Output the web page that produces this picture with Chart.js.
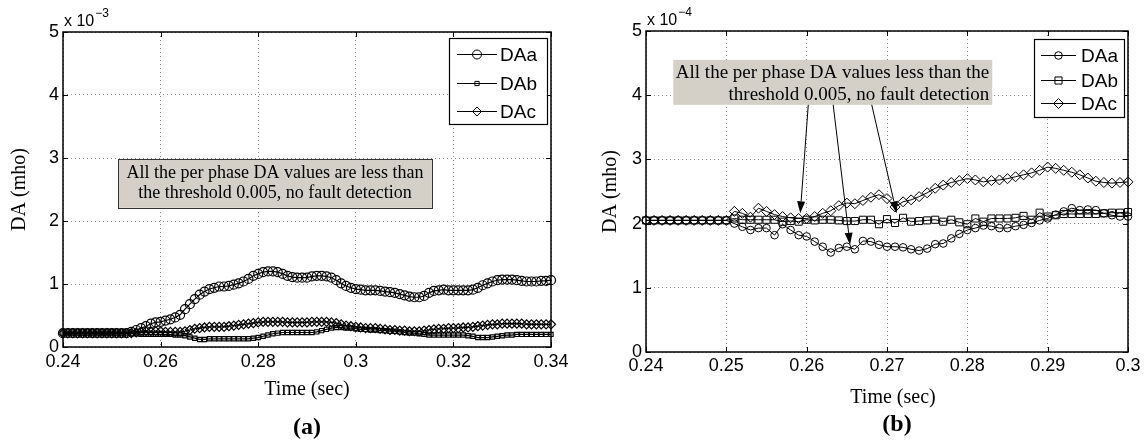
<!DOCTYPE html>
<html>
<head>
<meta charset="utf-8">
<script src="https://cdn.jsdelivr.net/npm/chart.js@4.4.0/dist/chart.umd.min.js"></script>
<style>
  html, body { margin: 0; padding: 0; background: #fff; }
  #wrap { position: relative; width: 1147px; height: 448px; }
  canvas { position: absolute; top: 0; }
  #chartA { left: 0; }
  #chartB { left: 573px; }
</style>
</head>
<body>
<div id="wrap">
  <canvas id="chartA" width="573" height="448"></canvas>
  <canvas id="chartB" width="574" height="448"></canvas>
</div>
<script>
// sample times (1 ms step)
const timeA = Array.from({ length: 101 }, (_, i) => +(0.24 + i * 0.001).toFixed(3));
const timeB = Array.from({ length: 61 }, (_, i) => +(0.24 + i * 0.001).toFixed(3));

// panel (a), DA in units of 1e-3 mho
const daA_a = [
  0.22, 0.22, 0.22, 0.22, 0.22, 0.22, 0.22, 0.22, 0.22, 0.22,
  0.22, 0.22, 0.22, 0.22, 0.24, 0.27, 0.30, 0.33, 0.37, 0.39,
  0.40, 0.42, 0.44, 0.47, 0.51, 0.60, 0.68, 0.76, 0.83, 0.88,
  0.92, 0.94, 0.96, 0.96, 0.97, 0.99, 1.01, 1.04, 1.08, 1.13,
  1.16, 1.19, 1.20, 1.20, 1.19, 1.16, 1.13, 1.11, 1.10, 1.10,
  1.10, 1.12, 1.13, 1.13, 1.12, 1.10, 1.06, 1.01, 0.97, 0.94,
  0.92, 0.91, 0.90, 0.90, 0.90, 0.89, 0.88, 0.87, 0.86, 0.84,
  0.82, 0.80, 0.79, 0.79, 0.81, 0.86, 0.89, 0.90, 0.91, 0.90,
  0.90, 0.90, 0.90, 0.90, 0.91, 0.94, 0.98, 1.01, 1.04, 1.06,
  1.07, 1.07, 1.07, 1.06, 1.05, 1.04, 1.04, 1.04, 1.05, 1.05,
  1.06
];
const daB_a = [
  0.22, 0.22, 0.22, 0.22, 0.22, 0.22, 0.22, 0.22, 0.22, 0.22,
  0.22, 0.22, 0.22, 0.22, 0.22, 0.21, 0.20, 0.20, 0.20, 0.20,
  0.20, 0.20, 0.20, 0.19, 0.19, 0.18, 0.16, 0.14, 0.12, 0.12,
  0.13, 0.13, 0.13, 0.13, 0.13, 0.13, 0.13, 0.13, 0.13, 0.14,
  0.15, 0.17, 0.19, 0.21, 0.22, 0.23, 0.23, 0.23, 0.23, 0.23,
  0.23, 0.23, 0.24, 0.26, 0.28, 0.30, 0.31, 0.31, 0.30, 0.30,
  0.29, 0.28, 0.28, 0.27, 0.27, 0.26, 0.26, 0.25, 0.25, 0.24,
  0.23, 0.22, 0.22, 0.21, 0.20, 0.19, 0.19, 0.19, 0.19, 0.19,
  0.19, 0.19, 0.19, 0.18, 0.17, 0.15, 0.15, 0.15, 0.16, 0.17,
  0.18, 0.19, 0.19, 0.20, 0.20, 0.20, 0.20, 0.20, 0.20, 0.20,
  0.20
];
const daC_a = [
  0.22, 0.22, 0.22, 0.22, 0.22, 0.22, 0.22, 0.22, 0.22, 0.22,
  0.22, 0.22, 0.22, 0.22, 0.22, 0.23, 0.24, 0.25, 0.25, 0.25,
  0.25, 0.24, 0.24, 0.24, 0.24, 0.25, 0.27, 0.29, 0.30, 0.31,
  0.32, 0.32, 0.32, 0.32, 0.33, 0.34, 0.35, 0.36, 0.37, 0.38,
  0.39, 0.40, 0.40, 0.40, 0.40, 0.40, 0.39, 0.39, 0.39, 0.39,
  0.39, 0.40, 0.40, 0.40, 0.40, 0.39, 0.38, 0.36, 0.34, 0.33,
  0.32, 0.31, 0.30, 0.30, 0.30, 0.29, 0.28, 0.27, 0.27, 0.26,
  0.26, 0.25, 0.25, 0.25, 0.26, 0.27, 0.28, 0.29, 0.29, 0.30,
  0.30, 0.30, 0.31, 0.31, 0.32, 0.33, 0.34, 0.35, 0.36, 0.36,
  0.37, 0.37, 0.37, 0.37, 0.37, 0.36, 0.36, 0.36, 0.36, 0.36,
  0.36
];

// panel (b), DA in units of 1e-4 mho
const daA_b = [
  2.05, 2.05, 2.05, 2.05, 2.05, 2.05, 2.05, 2.05, 2.05, 2.05,
  2.05, 2.00, 1.95, 1.90, 1.93, 1.93, 1.82, 1.99, 1.90, 1.82,
  1.80, 1.72, 1.64, 1.55, 1.62, 1.64, 1.60, 1.73, 1.72, 1.67,
  1.64, 1.64, 1.63, 1.60, 1.58, 1.61, 1.68, 1.69, 1.77, 1.84,
  1.90, 1.93, 1.97, 1.96, 1.93, 1.93, 1.96, 1.98, 2.01, 2.05,
  2.08, 2.14, 2.19, 2.24, 2.21, 2.22, 2.21, 2.16, 2.13, 2.11,
  2.11
];
const daB_b = [
  2.05, 2.05, 2.05, 2.05, 2.05, 2.05, 2.05, 2.05, 2.05, 2.05,
  2.05, 2.08, 2.06, 2.06, 2.06, 2.06, 2.06, 2.03, 2.04, 2.03,
  2.06, 2.05, 2.06, 2.06, 2.05, 2.04, 2.04, 2.06, 2.06, 1.99,
  2.07, 2.01, 2.09, 2.03, 2.04, 2.05, 2.06, 2.03, 2.06, 2.02,
  1.99, 2.08, 2.03, 2.08, 2.08, 2.08, 2.09, 2.12, 2.06, 2.17,
  2.11, 2.13, 2.15, 2.15, 2.15, 2.15, 2.15, 2.16, 2.17, 2.17,
  2.18
];
const daC_b = [
  2.05, 2.05, 2.05, 2.05, 2.05, 2.05, 2.05, 2.05, 2.05, 2.05,
  2.05, 2.19, 2.16, 2.10, 2.24, 2.19, 2.14, 2.11, 2.09, 2.08,
  2.08, 2.11, 2.16, 2.20, 2.28, 2.32, 2.31, 2.36, 2.41, 2.45,
  2.39, 2.26, 2.34, 2.37, 2.42, 2.48, 2.55, 2.60, 2.64, 2.67,
  2.70, 2.68, 2.65, 2.67, 2.68, 2.70, 2.73, 2.76, 2.79, 2.83,
  2.88, 2.86, 2.83, 2.80, 2.76, 2.71, 2.66, 2.64, 2.63, 2.64,
  2.65
];

const seriesNames = ["DAa", "DAb", "DAc"];
const xTicksA = [0.24, 0.26, 0.28, 0.3, 0.32, 0.34];
const xTicksB = [0.24, 0.25, 0.26, 0.27, 0.28, 0.29, 0.3];
const yTicks = [0, 1, 2, 3, 4, 5];

const SANS = '"Liberation Sans", Arial, Helvetica, sans-serif';
const SERIF = '"Liberation Serif", "Times New Roman", serif';
const GRID = "#8c8c8c";
const NOTE_FILL = "#d4d0c8";

function drawMarker(ctx, style, x, y, r) {
  ctx.beginPath();
  if (style === "circle") {
    ctx.arc(x, y, r, 0, Math.PI * 2);
  } else if (style === "rect") {
    const h = r * Math.SQRT1_2;
    ctx.rect(x - h, y - h, 2 * h, 2 * h);
  } else {
    ctx.moveTo(x, y - r);
    ctx.lineTo(x + r, y);
    ctx.lineTo(x, y + r);
    ctx.lineTo(x - r, y);
    ctx.closePath();
  }
  ctx.stroke();
}

// matlab-ish decorations: box, inward ticks, exponent, titles, note, legend
const matlabAxes = {
  id: "matlabAxes",
  afterDatasetsDraw(chart, _args, o) {
    const { ctx, chartArea: a } = chart;
    const xs = chart.scales.x;
    const ys = chart.scales.y;
    ctx.save();

    ctx.strokeStyle = "#000";
    ctx.lineWidth = 1;
    ctx.beginPath();
    xs.ticks.forEach((t) => {
      const px = Math.round(xs.getPixelForValue(t.value)) + 0.5;
      ctx.moveTo(px, a.bottom); ctx.lineTo(px, a.bottom - 5);
      ctx.moveTo(px, a.top); ctx.lineTo(px, a.top + 5);
    });
    ys.ticks.forEach((t) => {
      const py = Math.round(ys.getPixelForValue(t.value)) + 0.5;
      ctx.moveTo(a.left, py); ctx.lineTo(a.left + 5, py);
      ctx.moveTo(a.right, py); ctx.lineTo(a.right - 5, py);
    });
    ctx.stroke();
    ctx.lineWidth = 1.5;
    ctx.strokeRect(a.left, a.top, a.right - a.left, a.bottom - a.top);

    // exponent label
    ctx.fillStyle = "#000";
    ctx.textAlign = "left";
    ctx.textBaseline = "alphabetic";
    ctx.font = `16px ${SANS}`;
    ctx.fillText("x 10", a.left + 1, a.top - 6);
    const w = ctx.measureText("x 10").width;
    ctx.font = `12px ${SANS}`;
    ctx.fillText(o.exponent, a.left + w + 2, a.top - 15);

    // axis titles and panel label
    const cx = (a.left + a.right) / 2;
    ctx.textAlign = "center";
    ctx.textBaseline = "middle";
    ctx.font = `20px ${SERIF}`;
    ctx.fillText("Time (sec)", cx + o.titleDx, o.xTitleY);
    ctx.save();
    ctx.translate(o.yTitleX, (a.top + a.bottom) / 2);
    ctx.rotate(-Math.PI / 2);
    ctx.fillText("DA (mho)", 0, 0);
    ctx.restore();
    ctx.font = `bold 24px ${SERIF}`;
    ctx.fillText(o.panel, cx + o.panelDx, o.panelY);

    // text note
    const n = o.note;
    const bx0 = xs.getPixelForValue(n.x0), bx1 = xs.getPixelForValue(n.x1);
    const by0 = ys.getPixelForValue(n.y0), by1 = ys.getPixelForValue(n.y1);
    ctx.fillStyle = NOTE_FILL;
    ctx.fillRect(bx0, by0, bx1 - bx0, by1 - by0);
    if (n.border) {
      ctx.lineWidth = 1;
      ctx.strokeStyle = "#333";
      ctx.strokeRect(Math.round(bx0) + 0.5, Math.round(by0) + 0.5, Math.round(bx1 - bx0), Math.round(by1 - by0));
    }
    ctx.fillStyle = "#000";
    ctx.font = `${n.size}px ${SERIF}`;
    n.lines.forEach((line, i) => {
      const ty = by0 + n.firstLine + i * n.lineGap;
      if (n.align === "right") {
        ctx.textAlign = "right";
        ctx.fillText(line, bx1 - 3, ty);
      } else {
        ctx.textAlign = "center";
        ctx.fillText(line, (bx0 + bx1) / 2, ty);
      }
    });
    (n.arrows || []).forEach(([t0, v0, t1, v1]) => {
      const x0 = xs.getPixelForValue(t0), y0 = ys.getPixelForValue(v0);
      const x1 = xs.getPixelForValue(t1), y1 = ys.getPixelForValue(v1);
      const ang = Math.atan2(y1 - y0, x1 - x0);
      const hl = 12, hw = 4;
      const bxh = x1 - hl * Math.cos(ang), byh = y1 - hl * Math.sin(ang);
      ctx.strokeStyle = "#000";
      ctx.lineWidth = 1;
      ctx.beginPath();
      ctx.moveTo(x0, y0);
      ctx.lineTo(bxh, byh);
      ctx.stroke();
      ctx.beginPath();
      ctx.moveTo(x1, y1);
      ctx.lineTo(bxh + hw * Math.sin(ang), byh - hw * Math.cos(ang));
      ctx.lineTo(bxh - hw * Math.sin(ang), byh + hw * Math.cos(ang));
      ctx.closePath();
      ctx.fill();
    });

    // legend box
    const L = o.legend;
    const lx = Math.round(a.right - L.right - L.width);
    const ly = Math.round(a.top + L.top);
    ctx.fillStyle = "#fff";
    ctx.fillRect(lx, ly, L.width, L.height);
    ctx.strokeStyle = "#000";
    ctx.lineWidth = 1.2;
    ctx.strokeRect(lx + 0.5, ly + 0.5, L.width, L.height);
    ctx.lineWidth = 1;
    chart.data.datasets.forEach((ds, i) => {
      const ry = ly + L.rows[i] + 0.5;
      ctx.beginPath();
      ctx.moveTo(lx + L.lineX0, ry);
      ctx.lineTo(lx + L.lineX1, ry);
      ctx.stroke();
      drawMarker(ctx, ds.pointStyle, lx + (L.lineX0 + L.lineX1) / 2, ry, ds.pointRadius);
      ctx.fillStyle = "#000";
      ctx.font = `${L.size}px ${SANS}`;
      ctx.textAlign = "left";
      ctx.textBaseline = "middle";
      ctx.fillText(ds.label, lx + L.textX, ry + 1);
    });
    ctx.restore();
  },
};

function buildChart(id, p) {
  const datasets = p.series.map((s, k) => ({
    label: seriesNames[k],
    data: p.time.map((t, i) => ({ x: t, y: s.values[i] })),
    borderColor: "#000",
    borderWidth: p.lineWidth,
    pointStyle: s.style,
    pointRadius: s.radius,
    pointBorderColor: "#000",
    pointBorderWidth: p.lineWidth,
    pointBackgroundColor: "rgba(0,0,0,0)",
    tension: 0,
    clip: false,
  }));
  return new Chart(document.getElementById(id), {
    type: "line",
    data: { datasets },
    options: {
      responsive: false,
      animation: false,
      events: [],
      layout: { padding: p.padding },
      plugins: {
        legend: { display: false },
        tooltip: { enabled: false },
        matlabAxes: p.decor,
      },
      scales: {
        x: {
          type: "linear",
          min: p.xTicks[0],
          max: p.xTicks[p.xTicks.length - 1],
          afterBuildTicks: (s) => { s.ticks = p.xTicks.map((v) => ({ value: v })); },
          afterFit: (s) => { s.height = p.xAxisHeight; },
          grid: { color: GRID, lineWidth: 1, drawTicks: false },
          border: { display: false, dash: [1, 3] },
          ticks: {
            font: { family: SANS, size: 18 },
            color: "#000",
            padding: p.xTickPad,
            maxRotation: 0,
            autoSkip: false,
            callback: (v) => String(v),
          },
        },
        y: {
          min: 0,
          max: 5,
          afterBuildTicks: (s) => { s.ticks = yTicks.map((v) => ({ value: v })); },
          afterFit: (s) => { s.width = p.yAxisWidth; },
          grid: { color: GRID, lineWidth: 1, drawTicks: false },
          border: { display: false, dash: [1, 3] },
          ticks: {
            font: { family: SANS, size: 18 },
            color: "#000",
            padding: 4,
            callback: (v) => String(v),
          },
        },
      },
    },
    plugins: [matlabAxes],
  });
}

buildChart("chartA", {
  time: timeA,
  xTicks: xTicksA,
  padding: { left: 0, right: 22, top: 32, bottom: 0 },
  yAxisWidth: 63,
  xAxisHeight: 101,
  xTickPad: 4,
  lineWidth: 1.2,
  series: [
    { values: daA_a, style: "circle", radius: 4.5 },
    { values: daB_a, style: "rect", radius: 3 },
    { values: daC_a, style: "rectRot", radius: 4.5 },
  ],
  decor: {
    exponent: "\u22123",
    titleDx: 0,
    panelDx: 0,
    xTitleY: 390,
    yTitleX: 20,
    panel: "(a)",
    panelY: 428,
    note: {
      x0: 0.2513, x1: 0.3156, y0: 2.98, y1: 2.21,
      border: true, size: 18, align: "center", firstLine: 14, lineGap: 20,
      lines: ["All the per phase DA values are less than", "the threshold 0.005, no fault detection"],
    },
    legend: { right: 4, top: 6, width: 98, height: 86, rows: [16, 45, 73], lineX0: 8, lineX1: 48, textX: 51, size: 19 },
  },
});

buildChart("chartB", {
  time: timeB,
  xTicks: xTicksB,
  padding: { left: 0, right: 19, top: 31, bottom: 0 },
  yAxisWidth: 73,
  xAxisHeight: 96,
  xTickPad: 3,
  lineWidth: 1,
  series: [
    { values: daA_b, style: "circle", radius: 3.8 },
    { values: daB_b, style: "rect", radius: 5 },
    { values: daC_b, style: "rectRot", radius: 5 },
  ],
  decor: {
    exponent: "\u22124",
    titleDx: 6,
    panelDx: 10,
    xTitleY: 398,
    yTitleX: 38,
    panel: "(b)",
    panelY: 425,
    note: {
      x0: 0.2434, x1: 0.2831, y0: 4.55, y1: 3.85,
      border: false, size: 19, align: "right", firstLine: 13, lineGap: 22,
      lines: ["All the per phase DA values less than the", "threshold 0.005, no fault detection"],
      arrows: [
        [0.2602, 3.85, 0.2592, 2.16],
        [0.2633, 3.85, 0.2654, 1.67],
        [0.2681, 3.85, 0.2712, 2.16],
      ],
    },
    legend: { right: 4, top: 8, width: 90, height: 78, rows: [16, 41, 64], lineX0: 7, lineX1: 42, textX: 47, size: 19 },
  },
});
</script>
</body>
</html>
